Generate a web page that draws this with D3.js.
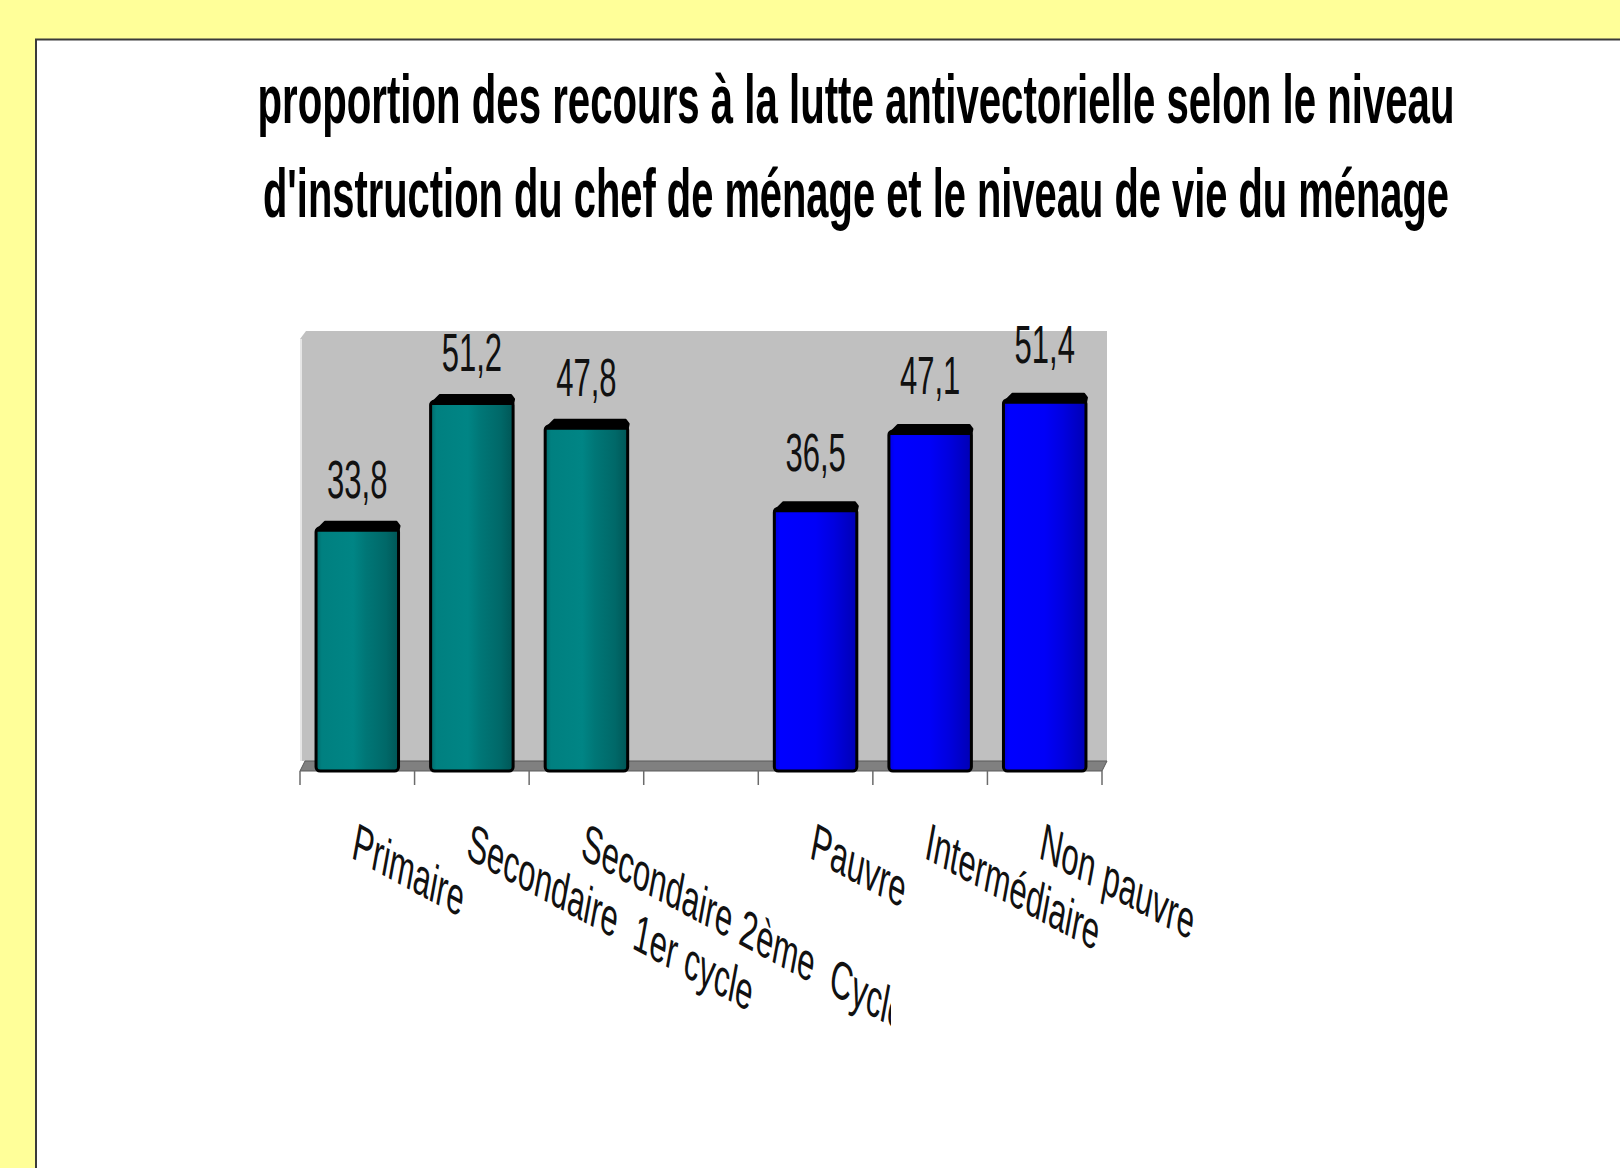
<!DOCTYPE html>
<html>
<head>
<meta charset="utf-8">
<script src="https://cdn.jsdelivr.net/npm/d3@7"></script>
<style>
  body { margin: 0; background: #ffff99; }
  text { font-family: "Liberation Sans", Arial, sans-serif; }
</style>
</head>
<body>
<div id="chart-container"></div>
<script>
// bar chart - lutte antivectorielle par instruction / niveau de vie

const categories = ["Primaire", "Secondaire  1er cycle", "Secondaire 2ème  Cycle", "",
                    "Pauvre", "Intermédiaire", "Non pauvre"];
const instructionValues = [33.8, 51.2, 47.8, null, null, null, null];
const niveauVieValues = [null, null, null, null, 36.5, 47.1, 51.4];
const yTicks = [0, 60];
const titleLines = ["proportion des recours à la lutte antivectorielle selon le niveau",
                    "d'instruction du chef de ménage et le niveau de vie du ménage"];

const svgWidth = 1620;
const svgHeight = 1168;
const K = 1.72; // the original slide is stretched vertically, so all text is too

const fr = d3.formatLocale({ decimal: ",", thousands: " ", grouping: [3], currency: ["", " €"] });
const fmt = fr.format(".1f");

const svg = d3.select("#chart-container")
    .append("svg")
    .attr("width", svgWidth)
    .attr("height", svgHeight);

function stretched(parent, x, y) {
    return parent.append("g").attr("transform", `translate(${x},${y}) scale(1,${K})`);
}

// page + white panel
svg.append("rect").attr("width", svgWidth).attr("height", svgHeight).attr("fill", "#ffff99");
svg.append("rect")
    .attr("x", 36).attr("y", 39.5)
    .attr("width", 1700).attr("height", 1300)
    .attr("fill", "white")
    .attr("stroke", "#3a3a3a")
    .attr("stroke-width", 2);

// title
const titleWidths = [1197, 1186];
const titleBase = [123, 217];
titleLines.forEach(function(line, i) {
    stretched(svg, 856, titleBase[i]).append("text")
        .attr("text-anchor", "middle")
        .attr("font-size", 40)
        .attr("font-weight", "bold")
        .attr("textLength", titleWidths[i])
        .attr("lengthAdjust", "spacingAndGlyphs")
        .text(line);
});

// scales
const x = d3.scaleBand()
    .domain(categories)
    .range([300, 1102])
    .paddingInner(0.28)
    .paddingOuter(0.14);

const y = d3.scaleLinear()
    .domain(d3.extent(yTicks))
    .range([768, 331]);

const defs = svg.append("defs");

function gradient(id, stops) {
    const g = defs.append("linearGradient").attr("id", id)
        .attr("x1", 0).attr("x2", 1).attr("y1", 0).attr("y2", 0);
    stops.forEach(s => g.append("stop").attr("offset", s[0]).attr("stop-color", s[1]));
}
gradient("gTeal", [[0, "#006a6a"], [0.07, "#008080"], [0.45, "#008585"], [0.6, "#007777"], [0.85, "#006868"], [1, "#005656"]]);
gradient("gBlue", [[0, "#0000dd"], [0.07, "#0000ff"], [0.5, "#0000f8"], [0.72, "#0000e0"], [1, "#0000b4"]]);

defs.append("clipPath").attr("id", "clipFirst")
    .append("rect").attr("x", 0).attr("y", 0).attr("width", 891).attr("height", svgHeight);

const series = [
    { values: instructionValues, fill: "url(#gTeal)", labelGap: 24 },
    { values: niveauVieValues, fill: "url(#gBlue)", labelGap: 31 }
];

// 3d wall + floor
const left = x.range()[0], right = x.range()[1];
const y0 = y(0);
const wallTop = y.range()[1];
svg.append("polygon")
    .attr("points", [[left, wallTop + 8], [left + 6, wallTop], [right + 5, wallTop], [right + 5, y0 - 7], [left, y0 - 7]].join(" "))
    .attr("fill", "#c0c0c0");
svg.append("line")
    .attr("x1", left + 1).attr("x2", left + 1)
    .attr("y1", wallTop + 8).attr("y2", y0 - 7)
    .attr("stroke", "#e6e6e6").attr("stroke-width", 2);
svg.append("polygon")
    .attr("points", [[left, y0 + 3], [left + 5, y0 - 7], [right + 5, y0 - 7], [right, y0 + 3]].join(" "))
    .attr("fill", "#808080")
    .attr("stroke", "#5a5a5a")
    .attr("stroke-width", 1);

// category ticks
const step = x.step();
d3.range(categories.length + 1).forEach(function(i) {
    const tx = left + i * step;
    svg.append("line")
        .attr("x1", tx).attr("x2", tx)
        .attr("y1", y0 + 3).attr("y2", y0 + 17)
        .attr("stroke", "#6b6b6b")
        .attr("stroke-width", 1.5);
});

// bars
const bw = x.bandwidth();
series.forEach(function(s) {
    categories.forEach(function(c, i) {
        const v = s.values[i];
        if (v === null) return;
        const x0 = x(c), x1 = x(c) + bw;
        const yt = y(v);
        svg.append("rect")
            .attr("x", x0).attr("y", yt + 6)
            .attr("width", bw).attr("height", (y0 + 3) - (yt + 6))
            .attr("rx", 4)
            .attr("fill", s.fill)
            .attr("stroke", "#000")
            .attr("stroke-width", 3);
        svg.append("polygon")
            .attr("points", [[x0, yt + 9], [x0 + 9, yt], [x1 - 2, yt], [x1 + 1, yt + 4], [x1, yt + 9]].join(" "))
            .attr("fill", "#000")
            .attr("stroke", "#000")
            .attr("stroke-width", 2)
            .attr("stroke-linejoin", "round");

        stretched(svg, x0 + bw / 2, yt - s.labelGap).append("text")
            .attr("text-anchor", "middle")
            .attr("font-size", 31)
            .attr("fill", "#111")
            .text(fmt(v));
    });
});

// rotated category labels
categories.forEach(function(c, i) {
    if (c === "") return;
    const holder = svg.append("g")
        .attr("clip-path", i < 3 ? "url(#clipFirst)" : null);
    holder.append("g")
        .attr("transform", `translate(${x(c) + bw / 2},${821}) scale(1,${K}) rotate(17.5)`)
        .append("text")
        .attr("dy", "0.72em")
        .attr("font-size", 31)
        .attr("fill", "#111")
        .style("white-space", "pre")
        .text(c);
});
</script>
</body>
</html>
